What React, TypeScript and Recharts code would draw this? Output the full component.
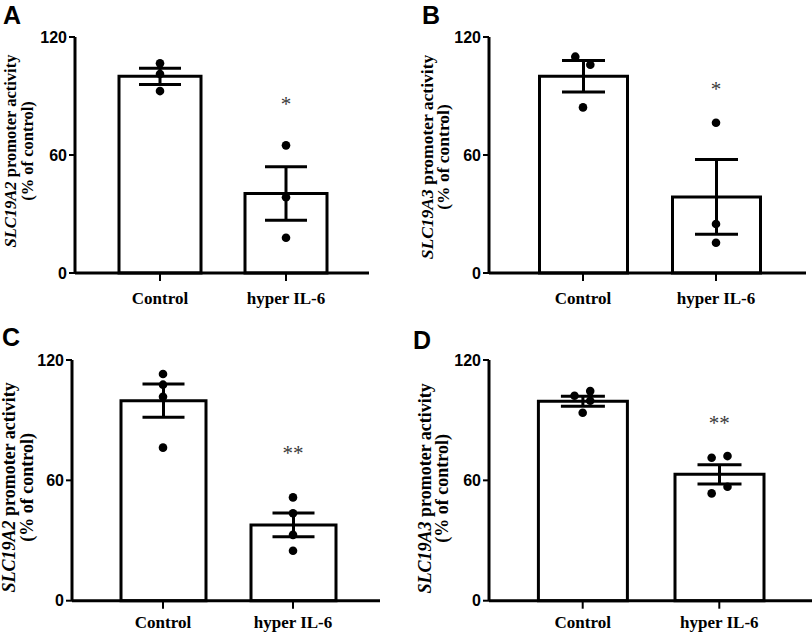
import React from 'react';
import { ComposedChart, Bar, ErrorBar, Scatter, XAxis, YAxis } from 'recharts';

// ---------- data ----------
const groups = ['Control', 'hyper IL-6'];
const yTicks = [0, 60, 120];

// Panel A – SLC19A2
const aMeans = [100, 40.4];
const aSem = [4.1, 13.6];
const aControl = [106.6, 101.2, 92.5];
const aHyper = [64.9, 38.5, 17.9];
const aControlJitter = [0, 0, 0];
const aHyperJitter = [0, 0, 0];
const aSig = '*';
const aSigY = 88;

// Panel B – SLC19A3
const bMeans = [100, 38.7];
const bSem = [8.0, 19.0];
const bControl = [110, 105.9, 84.2];
const bHyper = [76.4, 24.9, 15.4];
const bControlJitter = [-0.058, 0.055, 0];
const bHyperJitter = [0, 0, 0];
const bSig = '*';
const bSigY = 95.6;

// Panel C – SLC19A2
const cMeans = [99.7, 37.8];
const cSem = [8.3, 5.9];
const cControl = [113, 107.7, 101.7, 76.3];
const cHyper = [51.5, 43.6, 32.8, 24.9];
const cControlJitter = [0, 0, 0, 0];
const cHyperJitter = [0, 0, 0, 0];
const cSig = '**';
const cSigY = 75.5;

// Panel D – SLC19A3
const dMeans = [99.4, 63];
const dSem = [2.5, 4.8];
const dControl = [102.2, 104.5, 99.7, 93.7];
const dHyper = [71.3, 72.1, 53.5, 56.8];
const dControlJitter = [-0.06, 0.055, 0.055, 0];
const dHyperJitter = [-0.056, 0.06, -0.056, 0.06];
const dSig = '**';
const dSigY = 90.6;

// ---------- layout ----------
const SERIF = '"Liberation Serif", "Times New Roman", serif';
const SANS = '"Liberation Sans", Arial, sans-serif';

type Cfg = {
  left: number; top: number; w: number; h: number;
  yw: number; mTop: number; mRight: number; mBottom: number;
  padL: number; padR: number; barSize: number; cap: number; tickMargin: number;
  labelFont: number; l1: number; l2: number; labelDy: number;
  letter: string; letterLeft: number; letterTop: number;
};

const cfgA: Cfg = { left: 0, top: 0, w: 400, h: 310, yw: 75, mTop: 37, mRight: 31, mBottom: 7,
  padL: 22, padR: 20, barSize: 82, cap: 21, tickMargin: 11, labelFont: 16.5, l1: -59.5, l2: -42, labelDy: -4,
  letter: 'A', letterLeft: 3, letterTop: 2 };
const cfgB: Cfg = { left: 400, top: 0, w: 412, h: 310, yw: 89, mTop: 37, mRight: 6, mBottom: 7,
  padL: 27.5, padR: 23.5, barSize: 88, cap: 21.5, tickMargin: 11, labelFont: 17.5, l1: -56, l2: -40, labelDy: 2,
  letter: 'B', letterLeft: 22, letterTop: 2 };
const cfgC: Cfg = { left: 0, top: 310, w: 400, h: 325, yw: 72, mTop: 50, mRight: 20, mBottom: 4.3,
  padL: 26, padR: 22, barSize: 85, cap: 21, tickMargin: 7.5, labelFont: 18, l1: -56.5, l2: -39, labelDy: 7,
  letter: 'C', letterLeft: 2, letterTop: 14 };
const cfgD: Cfg = { left: 400, top: 310, w: 412, h: 325, yw: 89, mTop: 50, mRight: 0, mBottom: 4.3,
  padL: 25.4, padR: 24.4, barSize: 89, cap: 22, tickMargin: 7.5, labelFont: 18, l1: -58, l2: -41, labelDy: 8,
  letter: 'D', letterLeft: 13, letterTop: 17 };

const Dot = (p: any) => <circle cx={p.cx} cy={p.cy} r={4.3} fill="#000" />;

const Star = (p: any) => (
  <text x={p.cx} y={p.cy + 11} textAnchor="middle" fontFamily={SERIF} fontSize={21} fill="#3a3a3a">
    {p.payload?.label}
  </text>
);

function Panel(props: {
  cfg: Cfg; gene: string; means: number[]; sems: number[];
  ctrl: number[]; hyper: number[]; ctrlJit: number[]; hyperJit: number[]; sig: string; sigY: number;
}) {
  const { cfg, gene, means, sems, ctrl, hyper, ctrlJit, hyperJit, sig, sigY } = props;
  const bars = groups.map((g, i) => ({ group: g, mean: means[i], sem: sems[i] }));
  const pts = [
    ...ctrl.map((v, k) => ({ x: 0 + ctrlJit[k], y: v })),
    ...hyper.map((v, k) => ({ x: 1 + hyperJit[k], y: v })),
  ];
  const stars = [{ x: 1, y: sigY, label: sig }];

  const renderLabel = (lp: any) => {
    const vb = lp.viewBox || {};
    const axisX = (vb.x ?? 0) + (vb.width ?? cfg.yw);
    const cy = (vb.y ?? cfg.mTop) + (vb.height ?? 0) / 2 + cfg.labelDy;
    const x1 = axisX + cfg.l1;
    const x2 = axisX + cfg.l2;
    const common = { textAnchor: 'middle' as const, fontFamily: SERIF, fontWeight: 700, fontSize: cfg.labelFont, fill: '#000' };
    return (
      <g>
        <text x={x1} y={cy} transform={`rotate(-90 ${x1} ${cy})`} {...common}>
          <tspan fontStyle="italic">{gene}</tspan>
          <tspan> promoter activity</tspan>
        </text>
        <text x={x2} y={cy} transform={`rotate(-90 ${x2} ${cy})`} {...common}>(% of control)</text>
      </g>
    );
  };

  return (
    <div style={{ position: 'absolute', left: cfg.left, top: cfg.top, width: cfg.w, height: cfg.h }}>
      <ComposedChart
        width={cfg.w}
        height={cfg.h}
        data={bars}
        margin={{ top: cfg.mTop, right: cfg.mRight, bottom: cfg.mBottom, left: 0 }}
      >
        <XAxis
          xAxisId="cat"
          dataKey="group"
          type="category"
          interval={0}
          height={30}
          padding={{ left: cfg.padL, right: cfg.padR }}
          axisLine={{ stroke: '#000', strokeWidth: 3 }}
          tickLine={{ stroke: '#000', strokeWidth: 2 }}
          tickSize={8}
          tickMargin={cfg.tickMargin}
          tick={{ fill: '#000', fontFamily: SERIF, fontWeight: 700, fontSize: 17 }}
        />
        <XAxis
          xAxisId="num"
          type="number"
          dataKey="x"
          domain={[-0.5, 1.5]}
          allowDataOverflow
          hide
          padding={{ left: cfg.padL, right: cfg.padR }}
        />
        <YAxis
          type="number"
          domain={[0, 120]}
          ticks={yTicks}
          interval={0}
          width={cfg.yw}
          axisLine={{ stroke: '#000', strokeWidth: 3 }}
          tickLine={{ stroke: '#000', strokeWidth: 2 }}
          tickSize={6}
          tickMargin={2}
          tick={{ fill: '#000', fontFamily: SANS, fontWeight: 700, fontSize: 16 }}
          label={renderLabel}
        />
        <Bar
          xAxisId="cat"
          dataKey="mean"
          barSize={cfg.barSize}
          fill="#fff"
          stroke="#000"
          strokeWidth={3}
          isAnimationActive={false}
        >
          <ErrorBar dataKey="sem" width={cfg.cap} stroke="#000" strokeWidth={3} direction="y" />
        </Bar>
        <Scatter xAxisId="num" data={pts} dataKey="y" shape={Dot} isAnimationActive={false} />
        <Scatter xAxisId="num" data={stars} dataKey="y" shape={Star} isAnimationActive={false} />
      </ComposedChart>
      <div
        style={{
          position: 'absolute',
          left: cfg.letterLeft,
          top: cfg.letterTop,
          fontFamily: SANS,
          fontWeight: 700,
          fontSize: 25,
          lineHeight: '26px',
          color: '#000',
        }}
      >
        {cfg.letter}
      </div>
    </div>
  );
}

export default function App() {
  return (
    <div style={{ position: 'absolute', left: 0, top: 0, width: 812, height: 635, background: '#fff', overflow: 'hidden' }}>
      <Panel cfg={cfgA} gene="SLC19A2" means={aMeans} sems={aSem} ctrl={aControl} hyper={aHyper}
        ctrlJit={aControlJitter} hyperJit={aHyperJitter} sig={aSig} sigY={aSigY} />
      <Panel cfg={cfgB} gene="SLC19A3" means={bMeans} sems={bSem} ctrl={bControl} hyper={bHyper}
        ctrlJit={bControlJitter} hyperJit={bHyperJitter} sig={bSig} sigY={bSigY} />
      <Panel cfg={cfgC} gene="SLC19A2" means={cMeans} sems={cSem} ctrl={cControl} hyper={cHyper}
        ctrlJit={cControlJitter} hyperJit={cHyperJitter} sig={cSig} sigY={cSigY} />
      <Panel cfg={cfgD} gene="SLC19A3" means={dMeans} sems={dSem} ctrl={dControl} hyper={dHyper}
        ctrlJit={dControlJitter} hyperJit={dHyperJitter} sig={dSig} sigY={dSigY} />
    </div>
  );
}
